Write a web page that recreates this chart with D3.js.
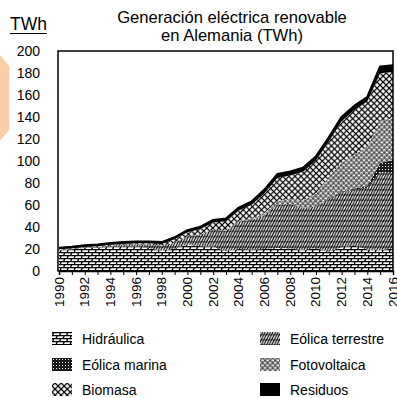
<!DOCTYPE html>
<html>
<head>
<meta charset="utf-8">
<script src="https://cdn.jsdelivr.net/npm/d3@7/dist/d3.min.js"></script>
<style>
  html, body { margin: 0; padding: 0; background: #fff; }
  svg { display: block; font-family: "Liberation Sans", Arial, sans-serif; }
</style>
</head>
<body>
<svg id="chart" width="397" height="398"></svg>
<script>
// Renewable electricity generation in Germany, TWh per year
const years = d3.range(1990, 2017);
const hidraulica = [19.0,19.8,20.8,21.2,22.1,22.3,22.2,21.0,18.5,20.5,24.0,22.5,22.0,18.0,20.0,19.5,20.0,21.0,20.5,19.0,21.0,17.5,21.5,23.0,19.5,19.0,20.5];
const eolicaTerrestre = [0.1,0.2,0.3,0.6,0.9,1.5,2.0,3.0,4.5,5.5,7.5,10.5,15.5,18.5,25.0,27.0,30.5,39.5,40.5,38.5,37.5,48.0,50.0,51.0,56.0,71.0,68.0];
const eolicaMarina = [0,0,0,0,0,0,0,0,0,0,0,0,0,0,0,0,0,0,0,0.1,0.2,0.6,0.7,0.9,1.5,8.3,12.3];
const fotovoltaica = [0,0,0,0,0,0,0,0,0,0,0.1,0.1,0.2,0.3,0.6,1.3,2.2,3.1,4.4,6.6,11.7,19.5,26.5,31.0,36.0,38.5,38.0];
const biomasa = [0.6,0.6,0.7,0.8,0.9,1.0,1.0,1.2,1.5,2.8,3.6,5.0,6.5,8.5,9.5,12.5,18.0,21.0,21.5,26.0,30.0,32.0,37.5,40.5,41.0,43.0,42.0];
const residuos = [1.3,1.3,1.4,1.4,1.4,1.4,1.4,1.4,1.6,1.7,1.8,1.9,2.0,2.2,2.4,2.8,3.2,3.4,3.4,3.5,3.6,3.6,3.7,3.8,4.0,6.0,6.0];

const yTicks = [0, 20, 40, 60, 80, 100, 120, 140, 160, 180, 200];
const xLabelYears = d3.range(1990, 2017, 2);

const seriesKeys = ["hidraulica", "eolicaTerrestre", "eolicaMarina", "fotovoltaica", "biomasa", "residuos"];
const seriesNames = {
  hidraulica: "Hidráulica",
  eolicaTerrestre: "Eólica terrestre",
  eolicaMarina: "Eólica marina",
  fotovoltaica: "Fotovoltaica",
  biomasa: "Biomasa",
  residuos: "Residuos"
};
const seriesValues = { hidraulica, eolicaTerrestre, eolicaMarina, fotovoltaica, biomasa, residuos };

const table = years.map((yr, i) => {
  const row = { year: yr };
  seriesKeys.forEach(k => row[k] = seriesValues[k][i]);
  return row;
});

const svg = d3.select("#chart");
svg.append("rect").attr("width", 397).attr("height", 398).attr("fill", "#fff");

// ---- fill patterns ----
const defs = svg.append("defs");

// brick pattern for hydro
const pHid = defs.append("pattern").attr("id", "p-hidraulica")
  .attr("patternUnits", "userSpaceOnUse").attr("width", 7).attr("height", 6);
pHid.append("rect").attr("width", 7).attr("height", 6).attr("fill", "#fff");
pHid.append("path").attr("d", "M0,0.6H7M0,3.6H7M1.8,0.6L0.6,3.6M5.3,3.6L4.1,6.6M5.3,-2.4L4.1,0.6")
  .attr("stroke", "#000").attr("stroke-width", 1.3).attr("fill", "none");

// steep hatching for onshore wind
const pTer = defs.append("pattern").attr("id", "p-eolicaTerrestre")
  .attr("patternUnits", "userSpaceOnUse").attr("width", 2.6).attr("height", 5.2);
pTer.append("rect").attr("width", 2.6).attr("height", 5.2).attr("fill", "#fff");
pTer.append("path").attr("d", "M-1.3,7.8L3.9,-2.6M-3.9,7.8L1.3,-2.6M1.3,7.8L6.5,-2.6")
  .attr("stroke", "#000").attr("stroke-width", 1.1).attr("fill", "none");
pTer.append("path").attr("d", "M0,2.6H2.6").attr("stroke", "#000").attr("stroke-width", 0.8);

// dark speckle for offshore wind
const pMar = defs.append("pattern").attr("id", "p-eolicaMarina")
  .attr("patternUnits", "userSpaceOnUse").attr("width", 3).attr("height", 3);
pMar.append("rect").attr("width", 3).attr("height", 3).attr("fill", "#1a1a1a");
pMar.append("rect").attr("x", 1).attr("y", 1).attr("width", 1).attr("height", 1).attr("fill", "#fff");

// fine open mesh for photovoltaics
const pFot = defs.append("pattern").attr("id", "p-fotovoltaica")
  .attr("patternUnits", "userSpaceOnUse").attr("width", 3.6).attr("height", 3.6)
  .attr("patternTransform", "rotate(45)");
pFot.append("rect").attr("width", 3.6).attr("height", 3.6).attr("fill", "#fff");
pFot.append("path").attr("d", "M0,1.8H3.6M1.8,0V3.6")
  .attr("stroke", "#000").attr("stroke-width", 0.8).attr("fill", "none");
pFot.append("rect").attr("x", 0).attr("y", 0).attr("width", 0.7).attr("height", 0.7).attr("fill", "#000");

// diagonal cross-hatch for biomass
const pBio = defs.append("pattern").attr("id", "p-biomasa")
  .attr("patternUnits", "userSpaceOnUse").attr("width", 4.3).attr("height", 4.3)
  .attr("patternTransform", "rotate(45)");
pBio.append("rect").attr("width", 4.3).attr("height", 4.3).attr("fill", "#fff");
pBio.append("path").attr("d", "M0,2.15H4.3M2.15,0V4.3")
  .attr("stroke", "#000").attr("stroke-width", 1.2).attr("fill", "none");

const fills = {
  hidraulica: "url(#p-hidraulica)",
  eolicaTerrestre: "url(#p-eolicaTerrestre)",
  eolicaMarina: "url(#p-eolicaMarina)",
  fotovoltaica: "url(#p-fotovoltaica)",
  biomasa: "url(#p-biomasa)",
  residuos: "#000"
};

// ---- decorative side tab ----
svg.append("polygon").attr("points", "0,55 9,66 9,130 0,141").attr("fill", "#fbcda5");

// ---- scales ----
const plot = { left: 58, right: 393, top: 51, bottom: 271 };
const x = d3.scaleLinear().domain([1990, 2016]).range([plot.left + 1, plot.right]);
const y = d3.scaleLinear().domain([0, 200]).range([plot.bottom, plot.top]);

// ---- stacked areas ----
const stack = d3.stack().keys(seriesKeys);
const layers = stack(table);
const area = d3.area()
  .x(d => x(d.data.year))
  .y0(d => y(d[0]))
  .y1(d => y(d[1]));

svg.append("g").selectAll("path").data(layers).join("path")
  .attr("d", area)
  .attr("fill", d => fills[d.key]);

// outline along the top of the stack
const topLine = d3.line().x(d => x(d.data.year)).y(d => y(d[1]));
svg.append("path").datum(layers[layers.length - 1])
  .attr("d", topLine).attr("fill", "none").attr("stroke", "#000").attr("stroke-width", 2.4)
  .attr("stroke-linejoin", "round");

// ---- frame ----
svg.append("rect")
  .attr("x", plot.left).attr("y", plot.top)
  .attr("width", plot.right - plot.left).attr("height", plot.bottom - plot.top)
  .attr("fill", "none").attr("stroke", "#000").attr("stroke-width", 1.5);

// ---- x axis ----
const xAxis = d3.axisBottom(x).tickValues(years).tickSize(4).tickFormat("");
const gx = svg.append("g").attr("transform", `translate(0,${plot.bottom})`).call(xAxis);
gx.select(".domain").attr("stroke", "#000").attr("stroke-width", 1.5);
gx.selectAll(".tick line").attr("stroke", "#000").attr("stroke-width", 1);

svg.append("g").selectAll("text").data(xLabelYears).join("text")
  .attr("transform", d => `translate(${x(d)},277) rotate(-90)`)
  .attr("text-anchor", "end")
  .attr("dominant-baseline", "central")
  .attr("font-size", 13.5)
  .attr("fill", "#000")
  .text(d => d);

// ---- y axis labels ----
svg.append("g").selectAll("text").data(yTicks).join("text")
  .attr("x", 40).attr("y", d => y(d))
  .attr("text-anchor", "end")
  .attr("dominant-baseline", "central")
  .attr("font-size", 14)
  .attr("fill", "#000")
  .text(d => d);

// unit label
svg.append("text").attr("x", 10).attr("y", 30).attr("font-size", 17.5).text("TWh");
svg.append("line").attr("x1", 10).attr("x2", 47).attr("y1", 33.5).attr("y2", 33.5)
  .attr("stroke", "#000").attr("stroke-width", 1.2);

// ---- title ----
const title = svg.append("text").attr("text-anchor", "middle").attr("font-size", 16.6).attr("fill", "#000");
title.append("tspan").attr("x", 232).attr("y", 23).text("Generación eléctrica renovable");
title.append("tspan").attr("x", 232).attr("y", 40.5).text("en Alemania (TWh)");

// ---- legend ----
const legendOrder = [
  ["hidraulica", 0, 0], ["eolicaTerrestre", 1, 0],
  ["eolicaMarina", 0, 1], ["fotovoltaica", 1, 1],
  ["biomasa", 0, 2], ["residuos", 1, 2]
];
const colX = [52, 260];
const rowY = [332, 358, 383];
const lg = svg.append("g").selectAll("g").data(legendOrder).join("g")
  .attr("transform", d => `translate(${colX[d[1]]},${rowY[d[2]]})`);
lg.append("rect").attr("width", 20).attr("height", 13).attr("fill", d => fills[d[0]]);
lg.append("text").attr("x", 30).attr("y", 11.5).attr("font-size", 14).attr("fill", "#000")
  .text(d => seriesNames[d[0]]);
</script>
</body>
</html>
